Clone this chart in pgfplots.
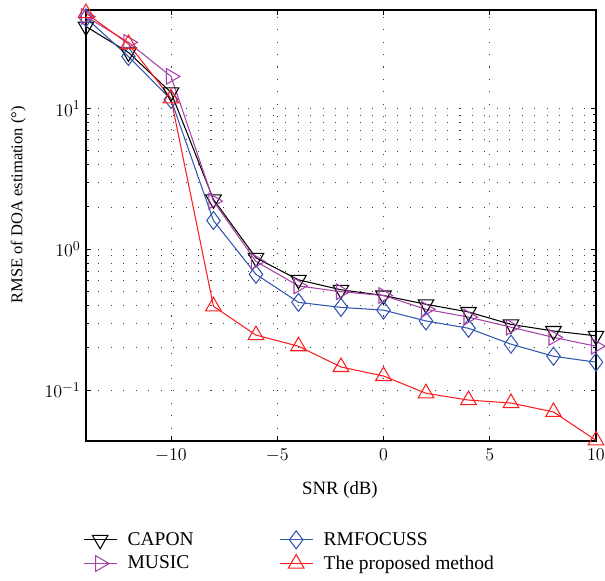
\documentclass[border=0pt]{standalone}
\usepackage{fontspec}
\setmainfont{Liberation Serif}
\usepackage{pgfplots}
\pgfplotsset{compat=1.18}
\definecolor{cpurple}{RGB}{165,65,170}
\definecolor{cblue}{RGB}{50,85,175}
\definecolor{cred}{RGB}{250,30,30}
\begin{document}
\begin{tikzpicture}
\useasboundingbox (-57.3pt,-92.7pt) rectangle (346pt,294pt);
\begin{axis}[
  scale only axis, width=340pt, height=287.3pt,
  at={(0pt,0pt)}, anchor=south west,
  xmin=-14, xmax=10, ymode=log, ymin=0.0435, ymax=50,
  xtick={-10,-5,0,5,10},
  ytick={0.1,1,10},
  yticklabels={$10^{-1}$,$10^{0}$,$10^{1}$},
  xmajorgrids, ymajorgrids, yminorgrids,
  grid style={black!75, line width=0.5pt, dash pattern=on 0.7pt off 7.6pt},
  minor grid style={black!75, line width=0.5pt, dash pattern=on 0.7pt off 7.6pt},
  tick align=inside, major tick length=3.5pt, minor tick length=2pt,
  every tick/.style={black, line width=0.6pt},
  axis line style={line width=0.8pt},
  tick label style={font=\fontsize{12.5}{14}\selectfont},
  xticklabel style={yshift=-2pt},
  xlabel={SNR (dB)}, ylabel={RMSE of DOA estimation (\textdegree)},
  xlabel style={at={(axis description cs:0.498,-0.114)}, anchor=center, font=\fontsize{12.5}{15}\selectfont},
  ylabel style={at={(axis description cs:-0.1324,0.548)}, anchor=center, font=\fontsize{11}{13}\selectfont},
  clip=false,
  legend style={at={(axis description cs:-0.015,-0.197)}, anchor=north west, draw=none, fill=none,
    legend columns=2, row sep=1.5pt, column sep=5pt, font=\fontsize{13}{15.6}\selectfont},
  legend cell align=left,
  legend image code/.code={\draw[mark repeat=2,mark phase=2] plot coordinates {(0pt,0pt)(11pt,0pt)(22pt,0pt)};},
  every axis plot/.append style={line width=0.7pt, mark size=6pt, mark options={solid, line width=0.7pt, fill=white}},
]
\addplot[black, mark=triangle, mark options={rotate=180}] coordinates {
(-14,38.2)(-12,25)(-10,13.0)(-8,2.26)(-6,0.87)(-4,0.607)(-2,0.516)(0,0.47)(2,0.407)(4,0.359)(6,0.293)(8,0.263)(10,0.243)};
\addlegendentry{\makebox[94pt][l]{CAPON}}
\addplot[cblue, mark=diamond] coordinates {
(-14,44)(-12,23.4)(-10,11.6)(-8,1.6)(-6,0.665)(-4,0.42)(-2,0.387)(0,0.37)(2,0.31)(4,0.275)(6,0.212)(8,0.174)(10,0.158)};
\addlegendentry{RMFOCUSS}
\addplot[cpurple, mark=triangle, mark options={rotate=-90}] coordinates {
(-14,45)(-12,29.5)(-10,16.9)(-8,2.2)(-6,0.82)(-4,0.55)(-2,0.5)(0,0.47)(2,0.375)(4,0.33)(6,0.28)(8,0.237)(10,0.205)};
\addlegendentry{\makebox[94pt][l]{MUSIC}}
\addplot[cred, mark=triangle] coordinates {
(-14,47.6)(-12,28.7)(-10,11.8)(-8,0.394)(-6,0.246)(-4,0.205)(-2,0.146)(0,0.126)(2,0.095)(4,0.085)(6,0.081)(8,0.070)(10,0.044)};
\addlegendentry{The proposed method}
\end{axis}
\end{tikzpicture}
\end{document}
